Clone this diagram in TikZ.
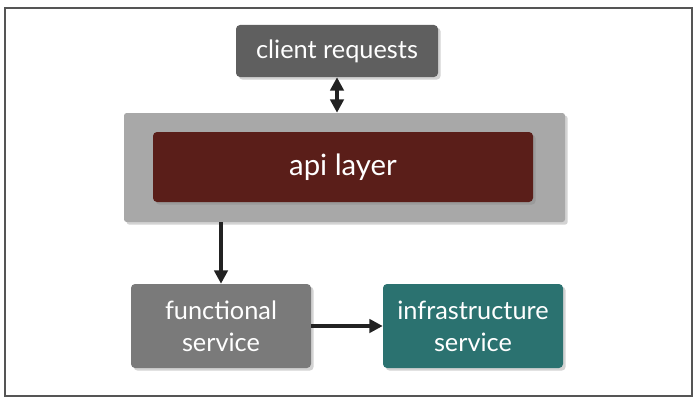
\documentclass[tikz,border=0pt]{standalone}
\usepackage{fontspec}
\setmainfont{Lato}
\usetikzlibrary{arrows.meta,shadows}

\definecolor{clientgray}{RGB}{95,95,95}
\definecolor{layergray}{RGB}{168,168,168}
\definecolor{apired}{RGB}{90,30,25}
\definecolor{funcgray}{RGB}{122,122,122}
\definecolor{infrateal}{RGB}{43,114,112}
\definecolor{arrowdark}{RGB}{34,34,34}

\tikzset{
  svcbox/.style={rounded corners=3pt, draw=none, text=white, align=center,
    drop shadow={shadow xshift=2pt, shadow yshift=-2pt, opacity=0.35}},
  flow/.style={draw=arrowdark, line width=2.6pt, -{Triangle[length=10pt,width=10pt]}},
}

\begin{document}
\begin{tikzpicture}[x=0.75pt,y=0.75pt,yscale=-1,xscale=1]
\useasboundingbox (0,0) rectangle (698,403);
% frame
\draw [color={rgb, 255:red, 85; green, 85; blue, 85 }, line width=0.8pt] (5,8) rectangle (692,396);

% boxes
\node [svcbox, fill=clientgray, minimum width=151.5pt, minimum height=39pt, font=\fontsize{19}{22}\selectfont] (client) at (337,51) {client requests};
\node [svcbox, fill=layergray, rounded corners=2pt, minimum width=330.75pt, minimum height=81.75pt] (layer) at (344.5,167.5) {};
\node [svcbox, fill=apired, minimum width=285pt, minimum height=52.5pt, font=\fontsize{22}{26}\selectfont] (api) at (343,167) {api layer};
\node [svcbox, fill=funcgray, minimum width=135pt, minimum height=63pt, font=\fontsize{19}{24}\selectfont] (func) at (221,326) {functional\\service};
\node [svcbox, fill=infrateal, minimum width=135pt, minimum height=63pt, font=\fontsize{19}{24}\selectfont] (infra) at (473,326) {infrastructure\\service};

% arrows
\draw [flow, {Triangle[length=10pt,width=10pt]}-{Triangle[length=10pt,width=10pt]}] (client.south) -- (client.south |- layer.north);
\draw [flow] (layer.south -| func.north) -- (func.north);
\draw [flow] (func.east) -- (infra.west);

\end{tikzpicture}
\end{document}
